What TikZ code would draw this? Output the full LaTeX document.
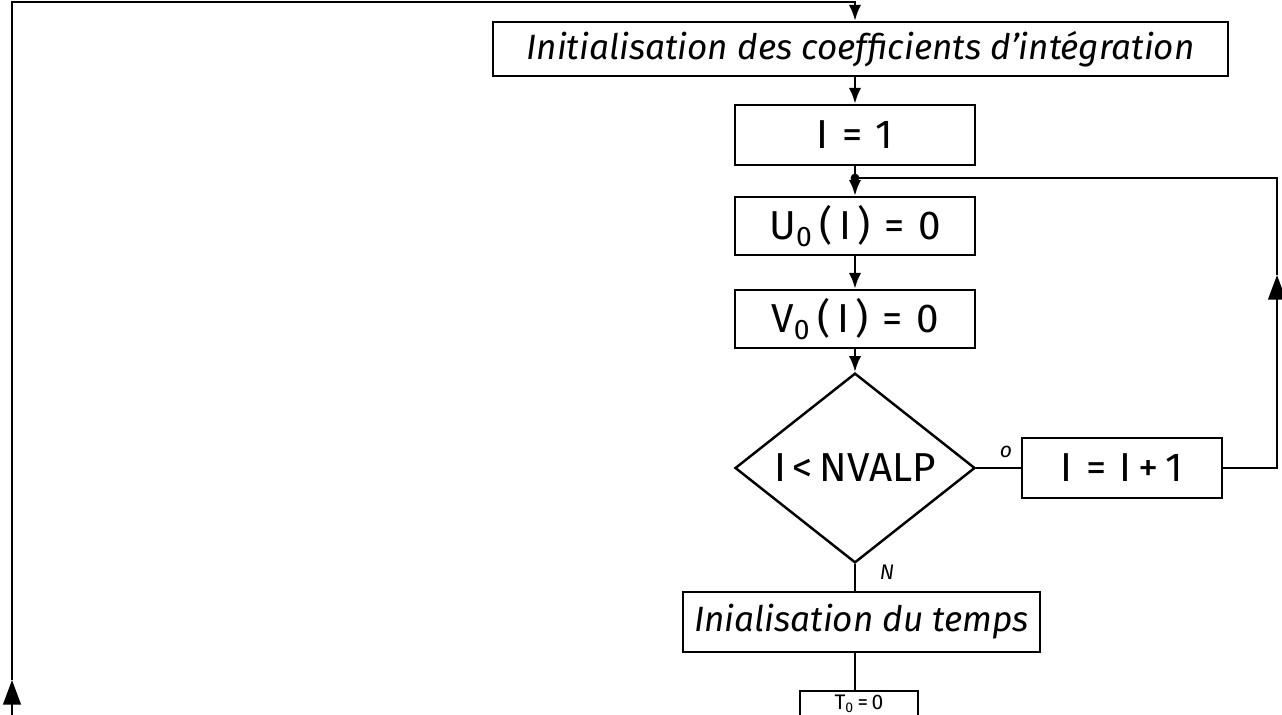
\documentclass[tikz,border=0pt]{standalone}
\usepackage{fontspec}
\setmainfont{Fira Sans}
\usetikzlibrary{shapes.geometric,arrows.meta}
\newlength\pxu
\setlength\pxu{0.02cm}
\begin{document}
\begin{tikzpicture}[x=0.02cm,y=-0.02cm,
  wire/.style={line width=1.4pt, line join=miter},
  flowbox/.style={draw, line width=1.4pt, rectangle, inner sep=0pt},
  into/.style={-{Latex[length=9pt,width=7pt]}},
  bigtip/.style={-{Triangle[length=14pt,width=10pt]}},
  eqn/.style={font=\fontsize{23}{25}\selectfont},
  hand/.style={font=\fontsize{20}{22}\selectfont\itshape},
  lbl/.style={font=\fontsize{12}{14}\selectfont\itshape}]
\fill[white] (0,0) rectangle (1282,715);
\useasboundingbox (0,0) rectangle (1282,715);
\begin{scope}
\clip (0,0) rectangle (1282,715);

% boxes of the flow chart
\node[flowbox, hand, minimum width=735\pxu, minimum height=54\pxu] (A) at (860.5,49)
  {Initialisation des coefficients d'intégration};
\node[flowbox, eqn, minimum width=240\pxu, minimum height=60\pxu] (B) at (855,135) {I\,\,=\,\,1};
\node[flowbox, eqn, minimum width=240\pxu, minimum height=58\pxu] (C) at (855,226)
  {U\textsubscript{0}\,(\,I\,)\,\,=\,\,0};
\node[flowbox, eqn, minimum width=240\pxu, minimum height=58\pxu] (D) at (855,319)
  {V\textsubscript{0}\,(\,I\,)\,\,=\,\,0};
\node[draw, line width=1.4pt, diamond, inner sep=0pt, eqn,
  minimum width=240\pxu, minimum height=180\pxu] (Q) at (855,468) {I\,<\,NVALP};
\node[flowbox, eqn, minimum width=200\pxu, minimum height=60\pxu] (E) at (1122,468)
  {I\,\,=\,\,I\,+\,1};
\node[flowbox, hand, minimum width=357\pxu, minimum height=60\pxu] (F) at (861.5,622)
  {Inialisation du temps};
% the last box runs on past the lower edge
\node[flowbox, font=\fontsize{12}{14}\selectfont, minimum width=118\pxu,
  text height=18\pxu, text depth=32\pxu, anchor=north] (G) at (859,690)
  {T\textsubscript{0}\,=\,0};

% branch labels
\node[lbl] (lo) at (1006,452) {o};
\node[lbl] (ln) at (887,572) {N};

% outer return line on the left and top
\coordinate (lb) at (12,740);
\coordinate (lm) at (12,680);
\coordinate (tl) at (12,2);
\coordinate (tr) at (855,2);
\draw[wire, bigtip] (lb) -- (lm);
\draw[wire, into] (lm) -- (tl) -- (tr) -- (tr |- A.north);

% main column
\draw[wire, into] (tr |- A.south) -- (B.north);
\draw[wire, into] (B.south) -- (C.north);
\draw[wire, into] (C.south) -- (D.north);
\draw[wire, into] (D.south) -- (Q.north);
\draw[wire] (Q.east) -- (E.west);
\draw[wire] (Q.south) -- (Q.south |- F.north);
\draw[wire] (Q.south |- F.south) -- (Q.south |- G.north);

% loop back from I = I + 1
\coordinate (r1) at (1277,468);
\coordinate (rm) at (1277,275);
\coordinate (r2) at (1277,178);
\coordinate (merge) at (855,178);
\draw[wire, bigtip] (E.east) -- (r1) -- (rm);
\draw[wire] (rm) -- (r2) -- (merge);
\fill (merge) circle[radius=2.5pt];
\end{scope}
\end{tikzpicture}
\end{document}
